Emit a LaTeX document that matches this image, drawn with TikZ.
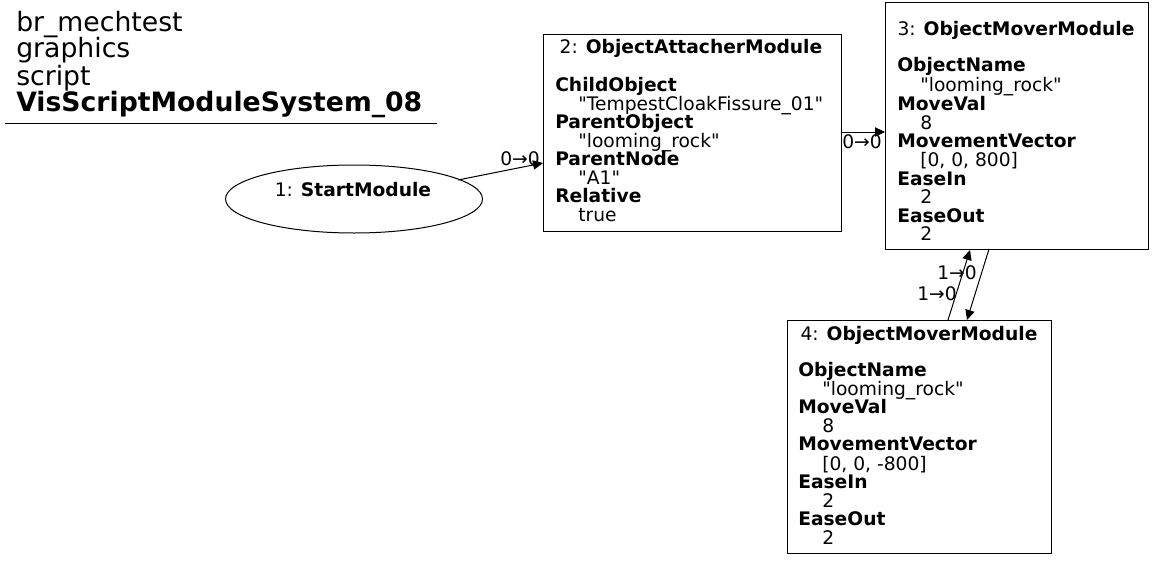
\documentclass[tikz,border=0pt]{standalone}
\usepackage{fontspec}
\setmainfont{DejaVu Sans}
\usetikzlibrary{arrows.meta,shapes.geometric}
\newcommand\nodefont{\fontsize{14}{16}\selectfont}
\newcommand\tline[3]{\node[anchor=base west, inner sep=0pt, font=\nodefont] at (#1,#2) {#3};}
\newcommand\qq{\XeTeXglyph\XeTeXcharglyph"22\relax}
\tikzset{
  box/.style={draw, line width=0.75pt, rectangle, inner sep=0pt, anchor=north west},
  edge/.style={draw, line width=0.75pt, -{Triangle[length=7.5pt, width=7pt]}},
  elabel/.style={font=\nodefont, inner sep=0pt, anchor=base},
  ntitle/.style={font=\nodefont, anchor=base, inner sep=0pt},
}
\begin{document}
\begin{tikzpicture}[x=0.75pt, y=-0.75pt]
\useasboundingbox (0,0) rectangle (1155,560);
% title
\begin{scope}[every node/.style={anchor=base west, inner sep=0pt, font=\fontsize{20}{24}\selectfont}]
\node (t1) at (16,32) {br\_mechtest};
\node (t2) at (16,58) {graphics};
\node (t3) at (16,85) {script};
\node (t4) at (16,111) {\bfseries VisScriptModuleSystem\_08};
\end{scope}
\draw[line width=0.75pt] (5,123) -- (437,123);
% node 1
\node[draw, ellipse, line width=0.75pt, minimum width=257*0.75pt, minimum height=68*0.75pt, inner sep=0pt] (n1) at (354,199) {};
\node[ntitle] (n1t) at (353,196) {1: \textbf{StartModule}};
% node 2
\node[box, minimum width=298*0.75pt, minimum height=197*0.75pt] (n2) at (543,34) {};
\node[ntitle] (n2t) at (691,54) {2: \textbf{ObjectAttacherModule}};
\tline{555}{91}{\textbf{ChildObject}}
\tline{578}{110}{\qq TempestCloakFissure\_01\qq}
\tline{555}{128}{\textbf{ParentObject}}
\tline{578}{147}{\qq looming\_rock\qq}
\tline{555}{165}{\textbf{ParentNode}}
\tline{578}{184}{\qq A1\qq}
\tline{555}{202}{\textbf{Relative}}
\tline{578}{221}{true}
% node 3
\node[box, minimum width=263*0.75pt, minimum height=247*0.75pt] (n3) at (885,2) {};
\node[ntitle] (n3t) at (1016,36) {3: \textbf{ObjectMoverModule}};
\tline{897}{72}{\textbf{ObjectName}}
\tline{920}{91}{\qq looming\_rock\qq}
\tline{897}{110}{\textbf{MoveVal}}
\tline{920}{129}{8}
\tline{897}{147}{\textbf{MovementVector}}
\tline{920}{166}{[0, 0, 800]}
\tline{897}{185}{\textbf{EaseIn}}
\tline{920}{203}{2}
\tline{897}{222}{\textbf{EaseOut}}
\tline{920}{240}{2}
% node 4
\node[box, minimum width=264*0.75pt, minimum height=233*0.75pt] (n4) at (787,320) {};
\node[ntitle] (n4t) at (919,340) {4: \textbf{ObjectMoverModule}};
\tline{798}{376}{\textbf{ObjectName}}
\tline{822}{395}{\qq looming\_rock\qq}
\tline{798}{413}{\textbf{MoveVal}}
\tline{822}{432}{8}
\tline{798}{450}{\textbf{MovementVector}}
\tline{822}{470}{[0, 0, -800]}
\tline{798}{488}{\textbf{EaseIn}}
\tline{822}{507}{2}
\tline{798}{525}{\textbf{EaseOut}}
\tline{822}{544}{2}
% edges
\coordinate (e1s) at (458,180);
\coordinate (e1e) at (543,163);
\draw[edge] (e1s) -- (e1e);
\node[elabel] (l1) at (520,165) {0→0};
\coordinate (e2s) at (841,132);
\coordinate (e2e) at (885,132);
\draw[edge] (e2s) -- (e2e);
\node[elabel] (l2) at (862,148) {0→0};
\coordinate (e3s) at (948,320);
\coordinate (e3e) at (970,250);
\draw[edge] (e3s) -- (e3e);
\node[elabel] (l3) at (937,300) {1→0};
\coordinate (e4s) at (989,249);
\coordinate (e4e) at (967,320);
\draw[edge] (e4s) -- (e4e);
\node[elabel] (l4) at (957,279) {1→0};
\end{tikzpicture}
\end{document}
